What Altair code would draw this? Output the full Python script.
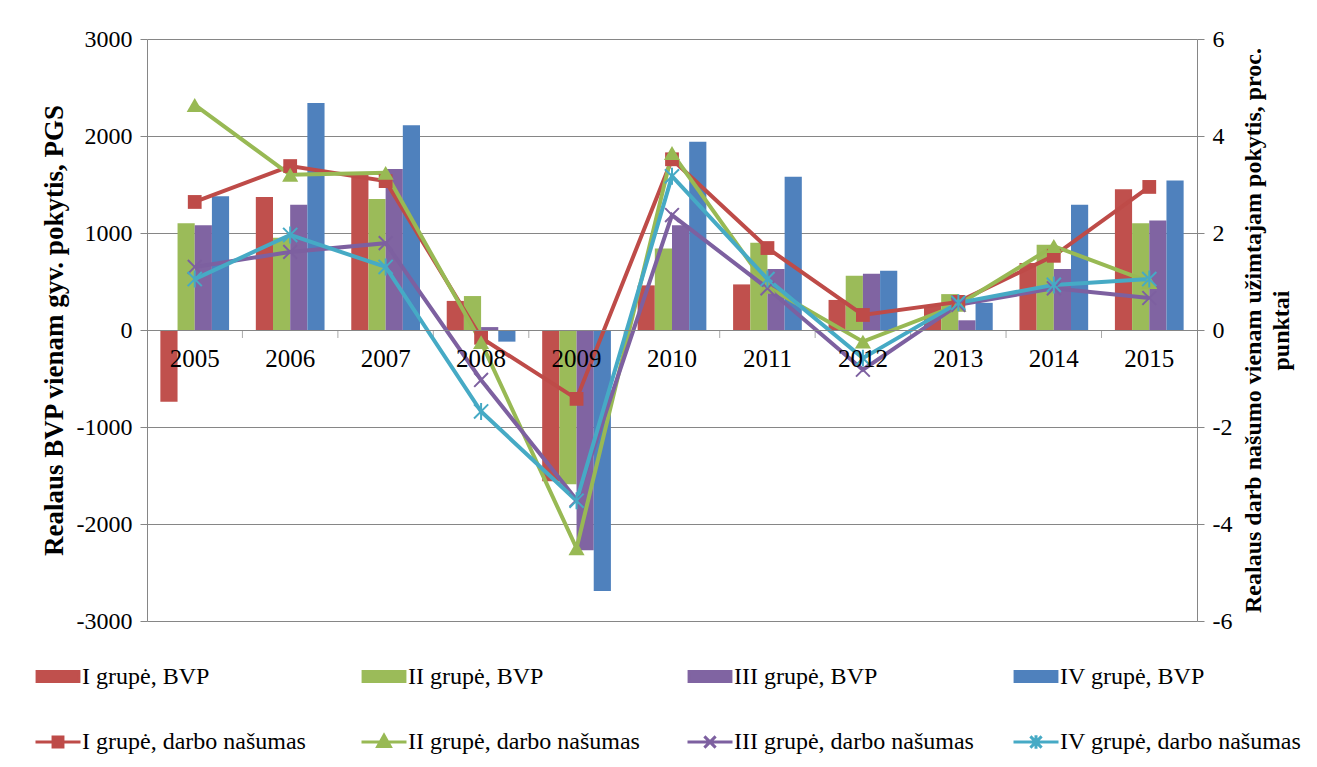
import altair as alt
import pandas as pd

years = ["2005", "2006", "2007", "2008", "2009", "2010", "2011", "2012", "2013", "2014", "2015"]

bar_names = ["I grupė, BVP", "II grupė, BVP", "III grupė, BVP", "IV grupė, BVP"]
line_names = ["I grupė, darbo našumas", "II grupė, darbo našumas",
              "III grupė, darbo našumas", "IV grupė, darbo našumas"]

# Realaus BVP vienam gyv. pokytis, PGS (left axis)
bvp_I = [-740, 1370, 1600, 300, -1560, 460, 470, 310, 250, 690, 1450]
bvp_II = [1100, 950, 1350, 350, -1590, 840, 900, 560, 370, 880, 1100]
bvp_III = [1080, 1290, 1660, 30, -2270, 1080, 630, 580, 100, 630, 1130]
bvp_IV = [1380, 2340, 2110, -120, -2690, 1940, 1580, 610, 280, 1290, 1540]

# Realaus darbo našumo pokytis, proc. punktai (right axis)
dn_I = [2.64, 3.38, 3.07, -0.16, -1.42, 3.52, 1.69, 0.31, 0.58, 1.53, 2.95]
dn_II = [4.64, 3.20, 3.24, -0.25, -4.50, 3.65, 0.89, -0.24, 0.52, 1.73, 0.99]
dn_III = [1.30, 1.61, 1.79, -1.03, -3.50, 2.37, 0.86, -0.82, 0.52, 0.86, 0.66]
dn_IV = [1.05, 1.96, 1.30, -1.68, -3.52, 3.17, 1.05, -0.58, 0.56, 0.93, 1.05]

bar_colors = ["#C0504D", "#9BBB59", "#8064A2", "#4F81BD"]
line_colors = ["#BE4B48", "#98B954", "#7D60A0", "#46AAC5"]

marker_shapes = ["square", "triangle-up",
                 "M-1,-1L1,1M-1,1L1,-1",
                 "M-1,-1L1,1M-1,1L1,-1M0,-1.2L0,1.2"]
marker_filled = [True, True, False, False]
marker_sizes = [190, 260, 190, 200]

legend_shapes = (
    ["M-0.93,-0.22L0.93,-0.22L0.93,0.22L-0.93,0.22Z"] * 4
    + ["M-1,0L1,0M-0.22,-0.22L0.22,-0.22L0.22,0.22L-0.22,0.22Z",
       "M-1,0L1,0M0,-0.3L0.28,0.2L-0.28,0.2Z",
       "M-1,0L1,0M-0.25,-0.25L0.25,0.25M-0.25,0.25L0.25,-0.25",
       "M-1,0L1,0M-0.25,-0.25L0.25,0.25M-0.25,0.25L0.25,-0.25M0,-0.3L0,0.3"]
)

FONT = "Liberation Serif"
GRAY = "#868686"

bar_series = [bvp_I, bvp_II, bvp_III, bvp_IV]
line_series = [dn_I, dn_II, dn_III, dn_IV]

bar_df = pd.DataFrame([
    {"year": y, "series": name, "value": v}
    for name, vals in zip(bar_names, bar_series)
    for y, v in zip(years, vals)
])
line_df = pd.DataFrame([
    {"year": y, "series": name, "value": v}
    for name, vals in zip(line_names, line_series)
    for y, v in zip(years, vals)
])
tick_df = pd.DataFrame({"year": years[1:]})
legend_df = pd.DataFrame({"entry": bar_names + line_names})

all_names = bar_names + line_names
# plotting colour scale (domain order differs from the legend's, so the two never merge)
color_scale = alt.Scale(domain=line_names + bar_names, range=line_colors + bar_colors)

x_enc = alt.X(
    "year:N", sort=years,
    scale=alt.Scale(paddingInner=0.28, paddingOuter=0.14),
    axis=alt.Axis(orient="bottom", offset=-291, ticks=False, labelAngle=0,
                  labelFontSize=25, labelPadding=16, labelColor="black",
                  domainColor=GRAY, domainWidth=1, grid=False, title=None,
                  zindex=1),
)

bars = alt.Chart(bar_df).mark_bar().encode(
    x=x_enc,
    xOffset=alt.XOffset("series:N", sort=bar_names, scale=alt.Scale(domain=bar_names)),
    y=alt.Y("value:Q", scale=alt.Scale(domain=[-3000, 3000], nice=False),
            axis=alt.Axis(values=list(range(-3000, 3001, 1000)), grid=True,
                          gridColor=GRAY, gridWidth=1, domainColor=GRAY,
                          tickColor=GRAY, tickSize=7, labelFontSize=24,
                          labelColor="black", labelPadding=8,
                          labelExpr="'' + datum.value",
                          title="Realaus BVP vienam gyv. pokytis, PGS",
                          titleFontSize=27, titleFontWeight="bold",
                          titleColor="black", titlePadding=8)),
    color=alt.Color("series:N", scale=color_scale, legend=None),
)

ticks = alt.Chart(tick_df).mark_tick(
    orient="vertical", size=8, thickness=1, color=GRAY, yOffset=4, xOffset=-13.4
).encode(
    x=alt.X("year:N", sort=years, bandPosition=0),
    y=alt.datum(0),
)

left = alt.layer(bars, ticks)

lines = alt.Chart(line_df).mark_line(strokeWidth=4).encode(
    x=alt.X("year:N", sort=years),
    y=alt.Y("value:Q", scale=alt.Scale(domain=[-6, 6], nice=False),
            axis=alt.Axis(orient="right", values=list(range(-6, 7, 2)), grid=False,
                          domainColor=GRAY, tickColor=GRAY, tickSize=7,
                          labelFontSize=24, labelColor="black", labelPadding=8,
                          labelExpr="'' + datum.value",
                          title=["Realaus darb našumo vienam užimtajam pokytis, proc.",
                                 "punktai"],
                          titleAngle=270, titleFontSize=24, titleFontWeight="bold",
                          titleColor="black", titlePadding=6, titleLineHeight=28)),
    color=alt.Color("series:N", scale=color_scale, legend=None),
)

marker_layers = []
for name, col, shp, fil, sz in zip(line_names, line_colors, marker_shapes,
                                   marker_filled, marker_sizes):
    m = alt.Chart(line_df).transform_filter(
        alt.datum.series == name
    ).mark_point(shape=shp, filled=fil, size=sz, color=col, opacity=1,
                 strokeWidth=2 if not fil else 1).encode(
        x=alt.X("year:N", sort=years),
        y=alt.Y("value:Q"),
    )
    marker_layers.append(m)

leg = alt.Legend(
    title=None, orient="none", legendX=-113, legendY=613, columns=4,
    gridAlign="all", columnPadding=31, rowPadding=29, padding=0,
    symbolSize=2025, symbolStrokeWidth=3, symbolOpacity=1,
    labelFont=FONT, labelFontSize=24, labelColor="black", labelLimit=400,
    labelOffset=0, direction="horizontal",
)

legend_layer = alt.Chart(legend_df).mark_point(filled=True, size=0).encode(
    fill=alt.Fill("entry:N", scale=alt.Scale(domain=all_names,
                                             range=bar_colors + line_colors),
                  legend=leg),
    stroke=alt.Stroke("entry:N", scale=alt.Scale(domain=all_names,
                                                 range=bar_colors + line_colors),
                      legend=leg),
    shape=alt.Shape("entry:N", scale=alt.Scale(domain=all_names, range=legend_shapes),
                    legend=leg),
)

right = alt.layer(lines, *marker_layers, legend_layer)

chart = alt.layer(left, right).resolve_scale(y="independent").properties(
    width=1050, height=582,
    autosize=alt.AutoSizeParams(type="none"),
    padding={"left": 139, "top": 31, "right": 112, "bottom": 138},
).configure(font=FONT).configure_view(stroke=None).configure_axis(
    labelFont=FONT, titleFont=FONT
).configure_legend(labelFont=FONT)

chart.save("out.html", embed_options={"renderer": "svg", "actions": False})
